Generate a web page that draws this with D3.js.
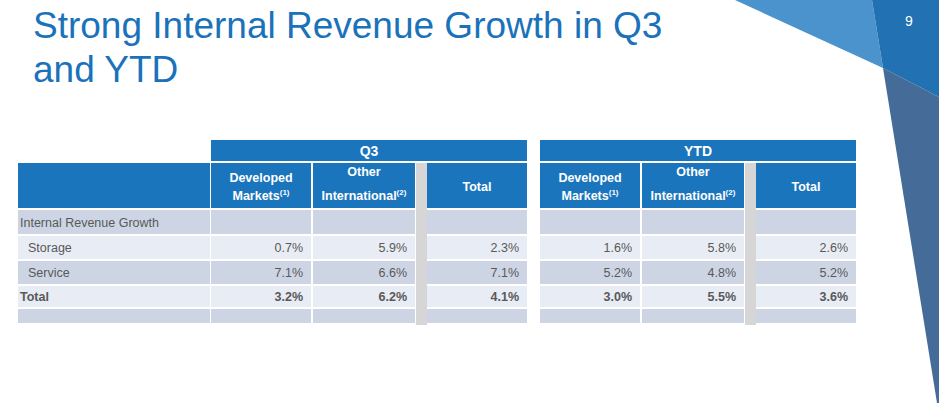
<!DOCTYPE html>
<html><head><meta charset="utf-8">
<script src="https://cdn.jsdelivr.net/npm/d3@7"></script>
<style>
body{margin:0;background:#fff;font-family:"Liberation Sans",Arial,sans-serif}
</style></head><body>
<script>
const groups = ['Q3', 'YTD']
const columns = ['Developed Markets', 'Other International', 'Total']
const rowLabels = ['Internal Revenue Growth', 'Storage', 'Service', 'Total', '']
const q3Values = [[null, null, null], ['0.7%', '5.9%', '2.3%'], ['7.1%', '6.6%', '7.1%'], ['3.2%', '6.2%', '4.1%'], [null, null, null]]
const ytdValues = [[null, null, null], ['1.6%', '5.8%', '2.6%'], ['5.2%', '4.8%', '5.2%'], ['3.0%', '5.5%', '3.6%'], [null, null, null]]

const W = 939, H = 403
const blue = '#1b75bc'
const svg = d3.select('body').append('svg').attr('width', W).attr('height', H)

// corner shapes
svg.append('polygon').attr('points', '735,0 872,0 883,68').attr('fill', '#4a93cc')
svg.append('polygon').attr('points', '872,0 939,0 939,97 883,68').attr('fill', '#2271b3')
svg.append('polygon').attr('points', '883,68 939,97 939,403 937,403').attr('fill', '#456b98')
svg.append('text').attr('x', 909).attr('y', 26).attr('fill', '#fff').attr('font-size', 14)
  .attr('text-anchor', 'middle').text('9')

svg.append('text').attr('x', 33).attr('y', 38).attr('fill', '#1a72bb').attr('font-size', 37).text('Strong Internal Revenue Growth in Q3')
svg.append('text').attr('x', 33).attr('y', 82).attr('fill', '#1a72bb').attr('font-size', 37).text('and YTD')

const rowY = d3.scaleOrdinal().domain(d3.range(5)).range([[210, 234], [236, 259], [261, 284], [286, 307], [309, 323]])
const rowFill = ['#cdd5e4', '#e8ecf4', '#cdd5e4', '#e8ecf4', '#cdd5e4']

// label column
svg.append('rect').attr('x', 18).attr('y', 163).attr('width', 192).attr('height', 45).attr('fill', blue)
rowLabels.forEach((l, i) => {
  const [y0, y1] = rowY(i)
  svg.append('rect').attr('x', 18).attr('y', y0).attr('width', 192).attr('height', y1 - y0).attr('fill', rowFill[i])
  svg.append('text').attr('x', i === 1 || i === 2 ? 28 : 20).attr('y', (y0 + y1) / 2 + 4.5)
    .attr('font-size', 12.5).attr('fill', '#595959').attr('font-weight', i === 3 ? 'bold' : null).text(l)
})

const groupX = d3.scaleOrdinal().domain(groups).range([211, 540])
const colX = d3.scaleOrdinal().domain(columns).range([[0, 100], [102, 204], [216, 316]])

groups.forEach((g, gi) => {
  const gx = groupX(g)
  const vals = gi === 0 ? q3Values : ytdValues
  svg.append('rect').attr('x', gx).attr('y', 140).attr('width', 316).attr('height', 21).attr('fill', blue)
  svg.append('text').attr('x', gx + 158).attr('y', 156).attr('text-anchor', 'middle')
    .attr('fill', '#fff').attr('font-weight', 'bold').attr('font-size', 14).text(g)
  svg.append('rect').attr('x', gx + 205).attr('y', 163).attr('width', 11).attr('height', 162).attr('fill', '#d6d6d6')
  columns.forEach((c, ci) => {
    const [a, b] = colX(c)
    const x0 = gx + a, w = b - a
    svg.append('rect').attr('x', x0).attr('y', 163).attr('width', w).attr('height', 45).attr('fill', blue)
    const t = svg.append('text').attr('text-anchor', 'middle').attr('fill', '#fff')
      .attr('font-weight', 'bold').attr('font-size', 12.5)
    if (ci === 2) {
      t.attr('x', x0 + w / 2).attr('y', 191).text(c)
    } else {
      const [w1, w2] = c.split(' ')
      t.append('tspan').attr('x', x0 + w / 2).attr('y', ci === 0 ? 182 : 176).text(w1)
      const t2 = t.append('tspan').attr('x', x0 + w / 2).attr('y', 200).text(w2)
      t.append('tspan').attr('font-size', 8).attr('dy', -5).text(ci === 0 ? '(1)' : '(2)')
    }
    vals.forEach((row, ri) => {
      const [y0, y1] = rowY(ri)
      svg.append('rect').attr('x', x0).attr('y', y0).attr('width', w).attr('height', y1 - y0).attr('fill', rowFill[ri])
      if (row[ci]) svg.append('text').attr('x', x0 + w - 8).attr('y', (y0 + y1) / 2 + 4.5)
        .attr('text-anchor', 'end').attr('font-size', 12.5).attr('fill', '#595959')
        .attr('font-weight', ri === 3 ? 'bold' : null).text(row[ci])
    })
  })
})
</script>
</body></html>
